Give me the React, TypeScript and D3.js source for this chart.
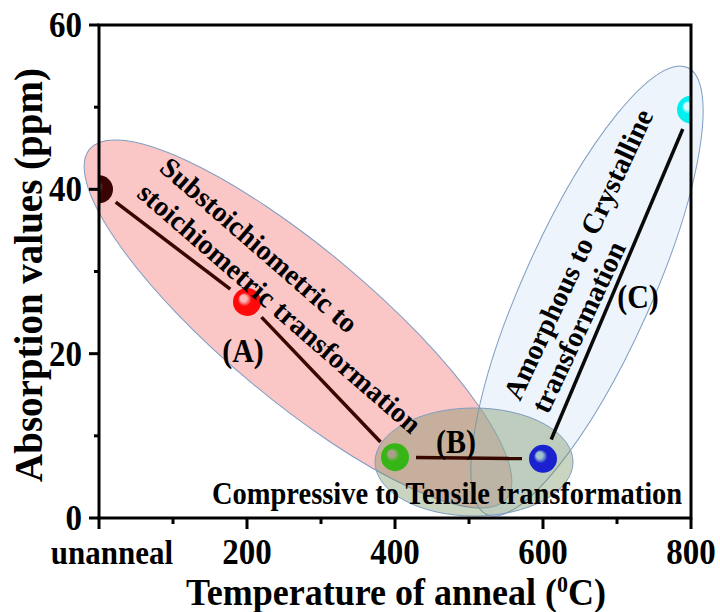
import React from "react";
import * as d3 from "d3";

// ---- data ----
const temperatures = [0, 200, 400, 600, 800];
const absorption = [40, 26.3, 7.4, 7.2, 49.7];
const markerColors = ["#3a0404", "#ff0a0a", "#35b516", "#1a22cf", "#00f0f0"];
const highlightColors = ["#6a3030", "#ffb8b8", "#aa9c88", "#9cc4d0", "#d8f8ff"];
const segmentPairs = [[0, 1], [1, 2], [2, 3], [3, 4]];
const segmentColors = ["#360800", "#360800", "#360800", "#0a0a0a"];
const xTickValues = [0, 200, 400, 600, 800];
const xTickLabels = ["unanneal", "200", "400", "600", "800"];
const xMinorTicks = [100, 300, 500, 700];
const yTickValues = [0, 20, 40, 60];
const yMinorTicks = [10, 30, 50];

// ---- layout ----
const W = 720, H = 612;
const L = 99, R = 691, T = 25, B = 518;
const FONT = "'Liberation Serif', 'Times New Roman', Times, serif";

const x = d3.scaleLinear().domain([0, 800]).range([L, R]);
const y = d3.scaleLinear().domain([0, 60]).range([B, T]);

const ellipses = [
  { cx: 298, cy: 324, rx: 272, ry: 75, rot: 40, fill: "rgb(245,120,120)", op: 0.42 },
  { cx: 587, cy: 291, rx: 245, ry: 64, rot: -65.8, fill: "rgb(200,220,242)", op: 0.32 },
  { cx: 474, cy: 462, rx: 99, ry: 54, rot: 0, fill: "rgb(112,142,92)", op: 0.38 },
];

export default function App() {
  const gap = 21;
  const pts = temperatures.map((t, i) => ({ px: x(t), py: y(absorption[i]) }));
  const segs = segmentPairs.map(([a, b], i) => {
    const p = pts[a], q = pts[b];
    const dx = q.px - p.px, dy = q.py - p.py;
    const len = Math.hypot(dx, dy);
    const ux = dx / len, uy = dy / len;
    return {
      x1: p.px + ux * gap, y1: p.py + uy * gap,
      x2: q.px - ux * gap, y2: q.py - uy * gap,
      color: segmentColors[i],
    };
  });

  return (
    <svg width={W} height={H} style={{ position: "absolute", left: 0, top: 0, background: "#fff" }}
      fontFamily={FONT} fontWeight="bold">
      <defs>
        <clipPath id="plotClip">
          <rect x={L} y={T} width={R - L} height={B - T} />
        </clipPath>
        {markerColors.map((c, i) => (
          <radialGradient key={i} id={`g${i}`} cx="50%" cy="50%" r="50%" fx="34%" fy="34%">
            <stop offset="0%" stopColor={highlightColors[i]} />
            <stop offset="22%" stopColor={highlightColors[i]} stopOpacity={0.85} />
            <stop offset="48%" stopColor={c} />
            <stop offset="100%" stopColor={c} />
          </radialGradient>
        ))}
      </defs>

      {/* ellipses */}
      {ellipses.map((e, i) => (
        <ellipse key={i} cx={0} cy={0} rx={e.rx} ry={e.ry}
          transform={`translate(${e.cx},${e.cy}) rotate(${e.rot})`}
          fill={e.fill} fillOpacity={e.op} stroke="#7f9dc2" strokeWidth={1} />
      ))}

      {/* connecting lines */}
      {segs.map((s, i) => (
        <line key={i} x1={s.x1} y1={s.y1} x2={s.x2} y2={s.y2} stroke={s.color} strokeWidth={3.5} />
      ))}

      {/* markers */}
      <g clipPath="url(#plotClip)">
        {pts.map((p, i) => (
          <circle key={i} cx={p.px} cy={p.py} r={14} fill={`url(#g${i})`} />
        ))}
      </g>

      {/* frame */}
      <rect x={L} y={T} width={R - L} height={B - T} fill="none" stroke="#000" strokeWidth={3} />

      {/* y ticks */}
      {yTickValues.map((v) => (
        <g key={v}>
          <line x1={L - 10} x2={L} y1={y(v)} y2={y(v)} stroke="#000" strokeWidth={3} />
          <text transform={`translate(${L - 17},${y(v) + 12}) scale(1,1.08)`} textAnchor="end" fontSize={33}>{v}</text>
        </g>
      ))}
      {yMinorTicks.map((v) => (
        <line key={v} x1={L - 5} x2={L} y1={y(v)} y2={y(v)} stroke="#000" strokeWidth={3} />
      ))}

      {/* x ticks */}
      {xTickValues.map((v, i) => (
        <g key={v}>
          <line x1={x(v)} x2={x(v)} y1={B} y2={B + 11} stroke="#000" strokeWidth={3} />
          <text transform={`translate(${x(v) + (i === 0 ? 13 : 0)},564) scale(1,1.1)`}
            textAnchor="middle" fontSize={i === 0 ? 31 : 33}>{xTickLabels[i]}</text>
        </g>
      ))}
      {xMinorTicks.map((v) => (
        <line key={v} x1={x(v)} x2={x(v)} y1={B} y2={B + 6} stroke="#000" strokeWidth={3} />
      ))}

      {/* axis titles */}
      <text transform="translate(42,275) rotate(-90)" textAnchor="middle" fontSize={39}>
        Absorption values (ppm)
      </text>
      <text transform="translate(396,605) scale(1,1.08)" textAnchor="middle" fontSize={36}>
        Temperature of anneal (<tspan dy={-12} fontSize={22}>0</tspan><tspan dy={12}>C)</tspan>
      </text>

      {/* annotations */}
      <text transform="translate(158,170) rotate(41)" fontSize={28.5}>
        <tspan x={0} y={0}>Substoichiometric to</tspan>
        <tspan x={0} y={34}>stoichiometric transformation</tspan>
      </text>
      <text transform="translate(520,402) rotate(-65)" fontSize={28.5}>
        <tspan x={0} y={0}>Amorphous to Crystalline</tspan>
        <tspan x={0} y={31}>transformation</tspan>
      </text>
      <text transform="translate(243,362) scale(1,1.12)" textAnchor="middle" fontSize={30}>(A)</text>
      <text transform="translate(456,453) scale(1,1.12)" textAnchor="middle" fontSize={30}>(B)</text>
      <text transform="translate(638,308) scale(1,1.12)" textAnchor="middle" fontSize={30}>(C)</text>
      <text transform="translate(212,504) scale(1,1.1)" fontSize={28.5}>Compressive to Tensile transformation</text>
    </svg>
  );
}
